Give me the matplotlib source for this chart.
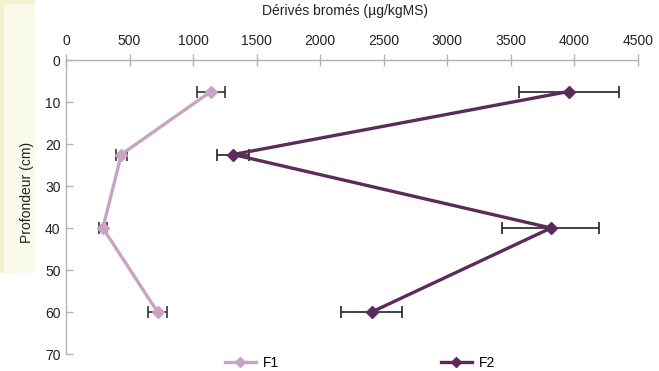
import matplotlib

matplotlib.use("Agg")

import matplotlib.pyplot as plt
from matplotlib.patches import Rectangle

plt.rcParams["font.family"] = ["Liberation Sans", "DejaVu Sans"]

# depths (cm) and brominated derivatives (µg/kgMS)
depth = [7.5, 22.5, 40, 60]
f1_values = [1140, 435, 290, 720]
f1_err = [110, 45, 30, 77]
f2_values = [3955, 1315, 3815, 2405]
f2_err = [395, 128, 382, 240]

x_ticks = [0, 500, 1000, 1500, 2000, 2500, 3000, 3500, 4000, 4500]
y_ticks = [0, 10, 20, 30, 40, 50, 60, 70]

F1_COLOR = "#c9a3c2"
F2_COLOR = "#5b2b5c"
AXIS_COLOR = "#b3b3b3"

W, H = 659, 371
fig = plt.figure(figsize=(W / 100, H / 100), dpi=100)

# pale yellow strip on the left edge of the reference picture
fig.patches.append(Rectangle((0, 1 - 272 / H), 34 / W, 272 / H,
                             transform=fig.transFigure, color="#f9faec", zorder=0))
fig.patches.append(Rectangle((0, 1 - 272 / H), 3 / W, 272 / H,
                             transform=fig.transFigure, color="#f0f2d0", zorder=0))
fig.patches.append(Rectangle((0, 1 - 3 / H), 34 / W, 3 / H,
                             transform=fig.transFigure, color="#f0f2d0", zorder=0))

ax = fig.add_axes([66 / W, 1 - 354 / H, 572 / W, 294 / H])
ax.patch.set_alpha(0)

ax.errorbar(f1_values, depth, xerr=f1_err, fmt="none", ecolor="#333333",
            elinewidth=1.2, capsize=4, capthick=1.2, zorder=2)
ax.errorbar(f2_values, depth, xerr=f2_err, fmt="none", ecolor="#222222",
            elinewidth=1.2, capsize=4, capthick=1.2, zorder=2)
ax.plot(f1_values, depth, color=F1_COLOR, lw=2.4, marker="D", markersize=6,
        label="F1", zorder=3)
ax.plot(f2_values, depth, color=F2_COLOR, lw=2.4, marker="D", markersize=6,
        label="F2", zorder=3)

ax.set_xlim(0, 4500)
ax.set_ylim(70, 0)
ax.set_xticks(x_ticks)
ax.set_yticks(y_ticks)

ax.xaxis.tick_top()
for side in ["right", "bottom"]:
    ax.spines[side].set_visible(False)
for side in ["top", "left"]:
    ax.spines[side].set_color(AXIS_COLOR)
    ax.spines[side].set_linewidth(1)

ax.tick_params(axis="x", direction="inout", length=9, width=1, color=AXIS_COLOR,
               labelsize=10, labelcolor="#222222", pad=4)
ax.tick_params(axis="y", direction="in", length=5, width=1, color=AXIS_COLOR,
               labelsize=10, labelcolor="#222222", pad=4)

fig.text(345 / W, 1 - 11 / H, "Dérivés bromés (µg/kgMS)", ha="center",
         va="center", fontsize=10, color="#222222")
fig.text(27 / W, 1 - 192 / H, "Profondeur (cm)", ha="center", va="center",
         rotation=90, fontsize=10, color="#222222")

fig.legend(loc="center", bbox_to_anchor=(360 / W, 1 - 363 / H), ncol=2,
           frameon=False, fontsize=10, handlelength=2.2, handletextpad=0.5,
           columnspacing=11.7, markerscale=0.8)

fig.savefig("out.png", dpi=100)
